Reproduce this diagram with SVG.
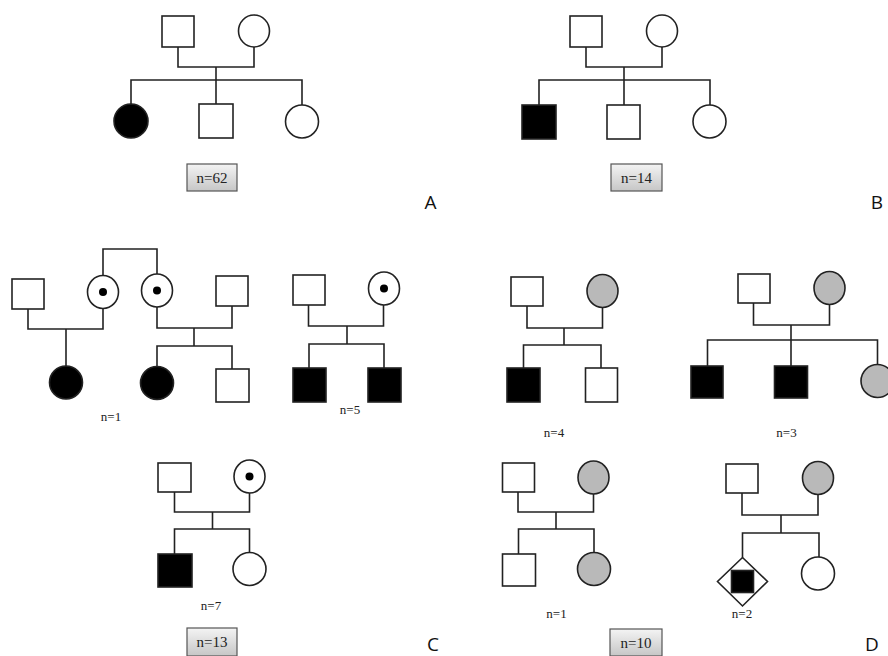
<svg xmlns="http://www.w3.org/2000/svg" width="888" height="656" viewBox="0 0 888 656">
<defs>
<linearGradient id="boxg" x1="0" y1="0" x2="0" y2="1">
<stop offset="0" stop-color="#f4f4f4"/>
<stop offset="1" stop-color="#c6c6c6"/>
</linearGradient>
</defs>
<style>
.s{fill:#fff;stroke:#222;stroke-width:1.6}
.a{fill:#000;stroke:#222;stroke-width:1.6}
.g{fill:#b9b9b9;stroke:#222;stroke-width:1.6}
.dot{fill:#000}
.ln{fill:none;stroke:#222;stroke-width:1.6}
.box{fill:url(#boxg);stroke:#555;stroke-width:1.2}
.n{font-family:"Liberation Serif",serif;font-size:13px;fill:#222;text-anchor:middle}
.bn{font-family:"Liberation Serif",serif;font-size:15px;fill:#222;text-anchor:middle}
.lab{font-family:"Open Sans","Liberation Sans",sans-serif;font-size:19px;fill:#111;text-anchor:middle}
</style>
<rect width="888" height="656" fill="#fff"/>
<g id="connectors">
<path class="ln" d="M178,47 V67 H254 V47 M216,67 V104 M131,104 V80 H302 V105"/>
<path class="ln" d="M586,47 V67 H662 V47 M624,67 V105 M539,105 V80 H710 V105"/>
<path class="ln" d="M103,275.5 V249 H157 V274"/>
<path class="ln" d="M28,309 V329 H103 V308.5 M66,329 V366"/>
<path class="ln" d="M157,307 V328 H232 V306 M194,328 V346 M157,366 V346 H232 V369"/>
<path class="ln" d="M308.5,305 V326 H383.5 V305 M347,326 V344 M309,368 V344 H384 V368"/>
<path class="ln" d="M174.5,492 V512 H249.5 V493 M212.5,512 V529 M174.5,554 V529 H249.5 V552.5"/>
<path class="ln" d="M527,306 V328 H602.5 V307.5 M564,328 V345 M523.5,368 V345 H601 V368"/>
<path class="ln" d="M753.5,303 V325 H829.5 V304.5 M791,325 V366 M707.5,366 V340 H877.5 V364.5"/>
<path class="ln" d="M518,492 V512 H593.5 V494 M556,512 V529 M518.5,554 V529 H594 V552.5"/>
<path class="ln" d="M742,493 V515 H818 V494.5 M781,515 V533 M742.5,557.5 V533 H819 V557"/>
</g>
<g id="A_father"><rect class="s" x="162" y="16" width="32" height="31"/></g>
<g id="A_mother"><ellipse class="s" cx="254" cy="31" rx="15.5" ry="16"/></g>
<g id="A_child1"><circle class="a" cx="131" cy="121" r="17"/></g>
<g id="A_child2"><rect class="s" x="199" y="104" width="34" height="34"/></g>
<g id="A_child3"><circle class="s" cx="302" cy="121.5" r="16.5"/></g>
<g id="A_count"><rect class="box" x="187" y="164" width="50" height="27"/><text class="bn" x="212" y="182.5">n=62</text></g>
<g id="A_label"><text class="lab" x="430.5" y="209">A</text></g>

<g id="B_father"><rect class="s" x="570" y="16" width="32" height="31"/></g>
<g id="B_mother"><ellipse class="s" cx="662" cy="31" rx="15.5" ry="16"/></g>
<g id="B_child1"><rect class="a" x="522" y="105" width="34" height="34"/></g>
<g id="B_child2"><rect class="s" x="607" y="105" width="33" height="34"/></g>
<g id="B_child3"><circle class="s" cx="709.5" cy="121.5" r="16.5"/></g>
<g id="B_count"><rect class="box" x="611" y="164" width="51" height="27"/><text class="bn" x="636.5" y="182.5">n=14</text></g>
<g id="B_label"><text class="lab" x="877" y="209">B</text></g>

<g id="C1_father1"><rect class="s" x="12" y="279" width="32" height="30"/></g>
<g id="C1_mother1"><ellipse class="s" cx="103" cy="292" rx="15.5" ry="16.5"/><circle class="dot" cx="103" cy="292" r="4"/></g>
<g id="C1_mother2"><ellipse class="s" cx="157" cy="290.5" rx="15.5" ry="16.5"/><circle class="dot" cx="157" cy="290.5" r="4"/></g>
<g id="C1_father2"><rect class="s" x="216" y="276" width="32" height="30"/></g>
<g id="C1_child1"><circle class="a" cx="66" cy="382.5" r="16.5"/></g>
<g id="C1_child2"><circle class="a" cx="157" cy="383" r="16.5"/></g>
<g id="C1_child3"><rect class="s" x="216" y="369" width="33" height="33"/></g>
<text class="n" x="111" y="421">n=1</text>

<g id="C2_father"><rect class="s" x="293" y="275" width="32" height="30"/></g>
<g id="C2_mother"><ellipse class="s" cx="384" cy="288.5" rx="15.5" ry="16.5"/><circle class="dot" cx="384" cy="288.5" r="4"/></g>
<g id="C2_child1"><rect class="a" x="293" y="368" width="33" height="34"/></g>
<g id="C2_child2"><rect class="a" x="368" y="368" width="33" height="34"/></g>
<text class="n" x="350" y="414">n=5</text>

<g id="C3_father"><rect class="s" x="158" y="463" width="33" height="29"/></g>
<g id="C3_mother"><ellipse class="s" cx="249.5" cy="476.5" rx="15.5" ry="16.5"/><circle class="dot" cx="249.5" cy="476.5" r="4"/></g>
<g id="C3_child1"><rect class="a" x="158" y="554" width="34" height="33"/></g>
<g id="C3_child2"><circle class="s" cx="249.5" cy="569" r="16.5"/></g>
<text class="n" x="211" y="610">n=7</text>
<g id="C_count"><rect class="box" x="187" y="628" width="50" height="28"/><text class="bn" x="212" y="647">n=13</text></g>
<g id="C_label"><text class="lab" x="433" y="651">C</text></g>

<g id="D1_father"><rect class="s" x="511" y="277" width="32" height="29"/></g>
<g id="D1_mother"><ellipse class="g" cx="602.5" cy="291" rx="15.5" ry="16.5"/></g>
<g id="D1_child1"><rect class="a" x="507" y="368" width="33" height="34"/></g>
<g id="D1_child2"><rect class="s" x="585.5" y="368" width="32" height="34"/></g>
<text class="n" x="554" y="437">n=4</text>

<g id="D2_father"><rect class="s" x="738" y="274" width="32" height="29"/></g>
<g id="D2_mother"><ellipse class="g" cx="829.5" cy="288" rx="15.5" ry="16.5"/></g>
<g id="D2_child1"><rect class="a" x="691" y="366" width="32" height="32"/></g>
<g id="D2_child2"><rect class="a" x="774.5" y="366" width="33" height="32"/></g>
<g id="D2_child3"><circle class="g" cx="877.5" cy="381" r="16.5"/></g>
<text class="n" x="786.5" y="437">n=3</text>

<g id="D3_father"><rect class="s" x="502.5" y="463" width="32" height="29"/></g>
<g id="D3_mother"><ellipse class="g" cx="593.5" cy="477.5" rx="15.5" ry="16.5"/></g>
<g id="D3_child1"><rect class="s" x="502.5" y="554" width="33" height="32"/></g>
<g id="D3_child2"><circle class="g" cx="594" cy="569" r="16.5"/></g>
<text class="n" x="556.5" y="618">n=1</text>
<g id="D_count"><rect class="box" x="610" y="629" width="52" height="27"/><text class="bn" x="636" y="647.5">n=10</text></g>

<g id="D4_father"><rect class="s" x="726" y="464" width="32" height="29"/></g>
<g id="D4_mother"><ellipse class="g" cx="818" cy="478" rx="15.5" ry="16.5"/></g>
<g id="D4_child1"><polygon class="s" points="742.5,557.5 767.5,581.5 742.5,606 717.5,581.5"/><rect class="a" x="731.5" y="570.5" width="22" height="22"/></g>
<g id="D4_child2"><circle class="s" cx="818" cy="573.5" r="16.5"/></g>
<text class="n" x="742" y="618">n=2</text>
<g id="D_label"><text class="lab" x="872" y="651">D</text></g>
</svg>
